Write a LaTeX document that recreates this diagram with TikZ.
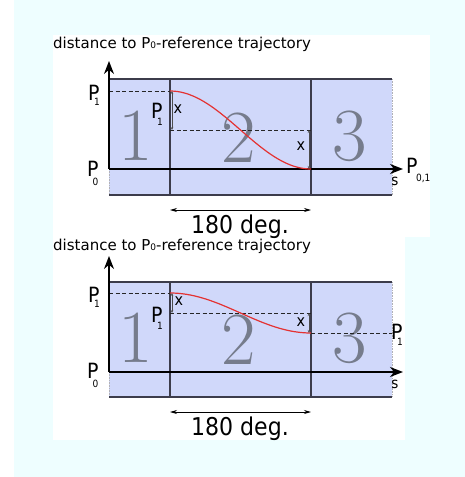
\documentclass[tikz,border=0pt]{standalone}
\usepackage{fontspec}
\setmainfont{DejaVu Sans Condensed}
\newfontfamily\titlefont{DejaVu Sans}
\newfontfamily\bignumfont{Latin Modern Roman}
\usetikzlibrary{arrows.meta}
\definecolor{bgcyan}{RGB}{238,254,255}
\definecolor{panelblue}{RGB}{208,216,250}
\definecolor{linegray}{RGB}{60,60,75}
\definecolor{numgray}{RGB}{118,124,140}
\definecolor{curvered}{RGB}{228,50,50}
% P label: #1 subscript, #2 kern, #3 drop
\newcommand{\Plab}[3]{P\kern#2\raisebox{#3}{\fontsize{10}{10}\selectfont #1}}
\newcommand{\Pzero}{P\raisebox{-0.5pt}{\fontsize{9}{9}\selectfont 0}}
\tikzset{
  frameline/.style={draw=linegray, line width=1.2pt},
  faintline/.style={draw=linegray!40, line width=0.6pt, densely dotted},
  axisline/.style={draw=black, line width=1.3pt, -{Stealth[length=13pt,width=10pt]}},
  dashline/.style={draw=black!85, line width=0.9pt, dash pattern=on 4pt off 2.5pt},
  thinarrow/.style={draw=black!70, line width=0.5pt, {Stealth[length=3pt,width=2.5pt]}-{Stealth[length=3pt,width=2.5pt]}},
  degarrow/.style={draw=black, line width=0.7pt, {Stealth[length=7pt,width=4pt]}-{Stealth[length=7pt,width=4pt]}},
  bignum/.style={font=\bignumfont\fontsize{75}{75}\selectfont, text=numgray, inner sep=0pt, anchor=base},
  plab/.style={font=\fontsize{21}{21}\selectfont, inner sep=0pt, anchor=base west},
  xlab/.style={font=\fontsize{16}{16}\selectfont, inner sep=0pt},
  slab/.style={font=\fontsize{15}{15}\selectfont, inner sep=0pt},
  title/.style={font=\titlefont\fontsize{15}{15}\selectfont, inner sep=0pt, anchor=base west},
  deglab/.style={font=\fontsize{24.5}{24.5}\selectfont, inner sep=0pt, anchor=base},
  curve/.style={draw=curvered, line width=1.2pt}
}
\begin{document}
\begin{tikzpicture}[x=1pt,y=-1pt]
\useasboundingbox (0,0) rectangle (465,477);
\fill[bgcyan] (14,0) rectangle (465,477);
\fill[white] (53,35) rectangle (430,237);
\fill[white] (53,237) rectangle (405,440);

% ---------- top panel ----------
\begin{scope}[name prefix=a-]
\node[title] (title) at (53,48) {distance to \Pzero-reference trajectory};
\fill[panelblue] (109,79) rectangle (392,195);
\draw[faintline] (392,79) -- (392,195);
\draw[faintline] (109,169) -- (109,195);
\draw[frameline] (109,79) -- (392,79);
\draw[frameline] (109,195) -- (392,195);
\coordinate (v1t) at (170,79); \coordinate (v1b) at (170,195);
\coordinate (v2t) at (311,79); \coordinate (v2b) at (311,195);
\draw[frameline] (v1t) -- (v1b);
\draw[frameline] (v2t) -- (v2b);
\node[bignum] (n1) at (136,160) {1};
\node[bignum] (n2) at (239,162) {2};
\node[bignum] (n3) at (350,160) {3};
\coordinate (o) at (109,169);
\coordinate (xend) at (403,169);
\coordinate (yend) at (109,61);
\coordinate (p1l) at (109,91);
\coordinate (c0) at (170,91);
\coordinate (m0) at (170,130);
\coordinate (m1) at (311,130);
\coordinate (c1) at (311,169);
\draw[dashline] (p1l) -- (c0);
\draw[dashline] (m0) -- (m1);
\draw[axisline] (o) -- (xend);
\draw[axisline] (o) -- (yend);
\draw[curve] plot[domain=0:180, samples=60] ({170+0.78333*\x}, {91+39*(1-cos(\x))});
\draw[thinarrow] (172,91) -- (172,130);
\draw[thinarrow] (309,130) -- (309,169);
\node[xlab] (x1) at (178,109) {x};
\node[xlab] (x2) at (301,146) {x};
\node[plab] (P1a) at (88,100) {\Plab{1}{-5.5pt}{-5pt}};
\node[plab] (P1b) at (151,118) {\Plab{1}{-5.5pt}{-7pt}};
\node[plab] (P0) at (87,176) {\Plab{0}{-6pt}{-9pt}};
\node[plab] (P01) at (406,173) {\Plab{0,1}{-1.5pt}{-8pt}};
\node[slab] (s) at (395,181) {s};
\coordinate (dl) at (170,210); \coordinate (dr) at (311,210);
\draw[degarrow] (dl) -- (dr);
\node[deglab] (deg) at (240,233) {180 deg.};
\end{scope}

% ---------- bottom panel ----------
\begin{scope}[name prefix=b-]
\node[title] (title) at (53,250) {distance to \Pzero-reference trajectory};
\fill[panelblue] (109,282) rectangle (392,397);
\draw[faintline] (392,282) -- (392,397);
\draw[faintline] (109,372) -- (109,397);
\draw[frameline] (109,282) -- (392,282);
\draw[frameline] (109,397) -- (392,397);
\coordinate (v1t) at (170,282); \coordinate (v1b) at (170,397);
\coordinate (v2t) at (311,282); \coordinate (v2b) at (311,397);
\draw[frameline] (v1t) -- (v1b);
\draw[frameline] (v2t) -- (v2b);
\node[bignum] (n1) at (136,362) {1};
\node[bignum] (n2) at (239,364) {2};
\node[bignum] (n3) at (350,362) {3};
\coordinate (o) at (109,372);
\coordinate (xend) at (403,372);
\coordinate (yend) at (109,256);
\coordinate (p1l) at (109,293);
\coordinate (c0) at (170,293);
\coordinate (m0) at (170,313);
\coordinate (m1) at (311,313);
\coordinate (c1) at (311,333);
\coordinate (r1) at (392,333);
\draw[dashline] (p1l) -- (c0);
\draw[dashline] (m0) -- (m1);
\draw[dashline] (c1) -- (r1);
\draw[axisline] (o) -- (xend);
\draw[axisline] (o) -- (yend);
\draw[curve] plot[domain=0:180, samples=60] ({170+0.78333*\x}, {293+20*(1-cos(\x))});
\draw[thinarrow] (172,293) -- (172,313);
\draw[thinarrow] (309,313) -- (309,333);
\node[xlab] (x1) at (179,301) {x};
\node[xlab] (x2) at (301,322) {x};
\node[plab] (P1a) at (88,302) {\Plab{1}{-5.5pt}{-5pt}};
\node[plab] (P1b) at (151,322) {\Plab{1}{-5.5pt}{-7pt}};
\node[plab] (P0) at (87,378) {\Plab{0}{-6pt}{-9pt}};
\node[plab] (P1c) at (391,339) {\Plab{1}{-5.5pt}{-6pt}};
\node[slab] (s) at (395,384) {s};
\coordinate (dl) at (170,412); \coordinate (dr) at (311,412);
\draw[degarrow] (dl) -- (dr);
\node[deglab] (deg) at (240,435) {180 deg.};
\end{scope}
\end{tikzpicture}
\end{document}
